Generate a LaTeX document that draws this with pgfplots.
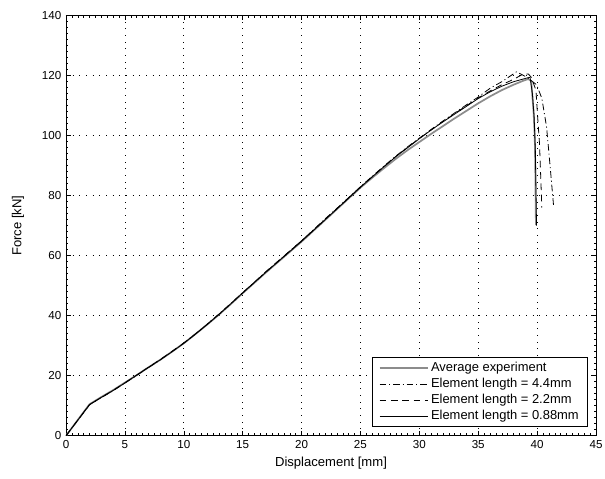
\documentclass[border=0pt]{standalone}
\usepackage{fontspec}
\setmainfont{Liberation Sans}
\usepackage{pgfplots}
\pgfplotsset{compat=1.18}
\definecolor{expgray}{HTML}{8C8C8C}

\begin{document}
\begin{tikzpicture}
\useasboundingbox (-49.5pt,-31.7pt) rectangle (404.25pt,326.8pt);
\begin{axis}[
  at={(0,0)}, anchor=south west,
  scale only axis, width=397.5pt, height=315pt,
  xmin=0, xmax=45, ymin=0, ymax=140,
  xtick distance=5, ytick distance=20,
  minor x tick num=9, minor y tick num=9,
  tick align=inside, major tick length=3.5pt, minor tick length=1.8pt,
  grid=major,
  major grid style={black, line width=0.45pt, dash pattern=on 0.5pt off 4.5pt},
  axis line style={black, line width=0.5pt},
  tick style={black, line width=0.4pt},
  ticklabel style={font=\fontsize{8.7}{10.4}\selectfont},
  /pgf/number format/assume math mode=true,
  xlabel={Displacement [mm]}, ylabel={Force [kN]},
  label style={font=\fontsize{9.8}{11.5}\selectfont},
  xlabel style={at={(axis description cs:0.5,0)}, anchor=center, yshift=-20.5pt},
  ylabel style={at={([xshift=-36pt]axis description cs:0,0.5)}, anchor=center},
  legend style={at={(0.985,0.021)}, anchor=south east, draw=black, line width=0.9pt,
    font=\fontsize{9.7}{11.2}\selectfont, inner xsep=4.5pt, inner ysep=1.5pt,
    row sep=-0.6pt, cells={anchor=west}},
  legend image code/.code={\draw[#1] (0pt,0pt) -- (36pt,0pt);},
]
\addplot[expgray, line width=1.3pt] coordinates {
(0,0) (2,10.5) (3,12.9) (4,15.2) (5,17.7) (6,20.2) (7,22.8) (8,25.3) (9,28.0)
(10,30.8) (11,33.9) (12,37.1) (13,40.4) (14,43.9) (15,47.5) (16,51.0) (17,54.5)
(18,57.9) (19,61.3) (20,64.7) (21,68.3) (22,71.9) (23,75.5) (24,79.1) (25,82.7)
(26,86.0) (27,89.2) (28,92.3) (29,95.2) (30,97.9) (31,100.6) (32,103.2) (33,105.8)
(34,108.3) (35,110.8) (36,113.1) (37,115.2) (38,117.0) (38.8,118.3) (39.25,118.9)
(39.5,118.2) (39.7,108) (39.8,100) (39.85,88) (39.9,70.2)};
\addlegendentry{Average experiment}
\addplot[black, line width=0.6pt, dash pattern=on 5pt off 2.2pt on 0.8pt off 2.2pt] coordinates {
(0,0) (2,10.4) (3,12.7) (4,15.0) (5,17.6) (6,20.1) (7,22.7) (8,25.3) (9,28.1)
(10,30.9) (11,34.0) (12,37.2) (13,40.6) (14,44.1) (15,47.7) (16,51.2) (17,54.8)
(18,58.2) (19,61.6) (20,65.0) (21,68.6) (22,72.3) (23,75.8) (24,79.4) (25,83.0)
(26,86.5) (27,89.9) (28,93.2) (29,96.3) (30,99.2) (31,102.1) (32,104.9) (33,107.6)
(34,110.3) (35,112.9) (36,115.8) (37,118.0) (38.25,121.3) (38.7,120.4) (39.2,119.3)
(39.95,117.0) (40.4,112.5) (40.8,103) (41.1,90) (41.4,76.5)};
\addlegendentry{Element length = 4.4mm}
\addplot[black, line width=0.6pt, dash pattern=on 5pt off 3.5pt] coordinates {
(0,0) (2,10.3) (3,12.8) (4,15.1) (5,17.6) (6,20.2) (7,22.8) (8,25.4) (9,28.1)
(10,30.9) (11,33.9) (12,37.2) (13,40.5) (14,44.0) (15,47.6) (16,51.1) (17,54.7)
(18,58.1) (19,61.5) (20,65.0) (21,68.5) (22,72.1) (23,75.7) (24,79.3) (25,82.9)
(26,86.3) (27,89.7) (28,93.1) (29,96.1) (30,99.1) (31,101.9) (32,104.7) (33,107.4)
(34,110.0) (35,112.6) (36,114.9) (37,117.0) (38,118.8) (38.7,120.3) (39.25,120.6)
(39.5,119.5) (39.9,115.2) (40.05,106) (40.2,97.5) (40.3,87) (40.4,76)};
\addlegendentry{Element length = 2.2mm}
\addplot[black, line width=0.6pt] coordinates {
(0,0) (2,10.4) (3,12.8) (4,15.1) (5,17.6) (6,20.2) (7,22.8) (8,25.3) (9,28.0)
(10,30.8) (11,33.9) (12,37.1) (13,40.5) (14,44.0) (15,47.6) (16,51.1) (17,54.6)
(18,58.0) (19,61.4) (20,64.8) (21,68.4) (22,72.0) (23,75.6) (24,79.2) (25,82.8)
(26,86.3) (27,89.7) (28,93.0) (29,96.0) (30,99.0) (31,101.9) (32,104.6) (33,107.2)
(34,109.8) (35,112.4) (36,114.6) (37,116.5) (38,118.0) (39,119.1) (39.4,119.5)
(39.6,114) (39.75,106) (39.85,95) (39.95,70)};
\addlegendentry{Element length = 0.88mm}
\end{axis}
\end{tikzpicture}
\end{document}
